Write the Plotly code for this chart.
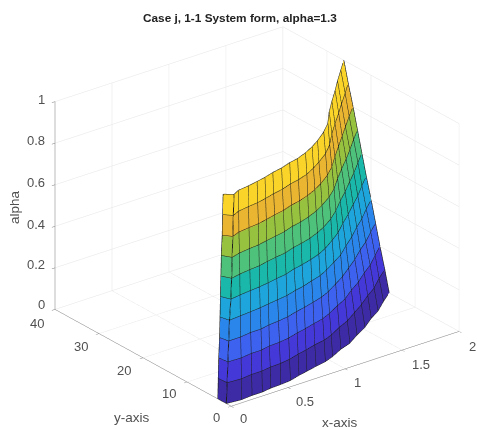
import plotly.graph_objects as go

alpha_levels = [0.0, 0.1, 0.2, 0.3, 0.4, 0.5, 0.6, 0.7, 0.8, 0.9, 1.0]
x_values = [0, .01, .12, .22, .31, .395, .487, .58, .678, .763, .863, .96, 1.05, 1.17, 1.28, 1.40, 1.52, 1.645, 1.755, 1.88, 2.0]
x_second_column = [0.0, 0.005, 0.01, 0.015, 0.02, 0.03, 0.035, 0.04, 0.045, 0.05, 0.055]
y_rows = [
    [3.0, 1.1, 0.8, 1.0, 1.0, 1.3, 1.4, 1.6, 2.2, 2.6, 3.1, 3.5, 4.2, 5.4, 6.2, 7.7, 9.0, 10.8, 12.1, 14.1, 15.9],
    [2.9, 1.05, 0.85, 1.1, 1.1, 1.4, 1.5, 1.8, 2.4, 2.8, 3.4, 3.8, 4.5, 5.8, 6.8, 8.3, 9.8, 11.6, 13.0, 15.1, 16.9],
    [2.8, 1.0, 0.9, 1.2, 1.2, 1.6, 1.7, 2.0, 2.6, 3.0, 3.6, 4.1, 4.9, 6.2, 7.3, 9.0, 10.5, 12.4, 13.9, 16.0, 18.0],
    [2.6, 0.95, 1.0, 1.3, 1.3, 1.7, 1.9, 2.2, 2.8, 3.2, 3.8, 4.4, 5.2, 6.6, 7.9, 9.6, 11.3, 13.3, 14.9, 17.0, 19.0],
    [2.5, 0.9, 1.1, 1.3, 1.5, 1.8, 2.1, 2.4, 3.0, 3.4, 4.1, 4.7, 5.6, 7.0, 8.3, 10.2, 12.0, 14.1, 15.8, 18.0, 20.0],
    [2.4, 0.85, 1.15, 1.4, 1.6, 1.9, 2.3, 2.6, 3.3, 3.7, 4.3, 5.0, 5.9, 7.4, 8.9, 10.9, 12.8, 14.9, 16.7, 19.0, 21.1],
    [2.3, 0.8, 1.2, 1.5, 1.7, 2.1, 2.5, 2.8, 3.5, 3.9, 4.5, 5.3, 6.2, 7.7, 9.4, 11.5, 13.5, 15.7, 17.6, 19.9, 22.1],
    [2.2, 0.8, 1.3, 1.6, 1.8, 2.2, 2.6, 3.0, 3.7, 4.1, 4.8, 5.6, 6.6, 8.1, 9.8, 12.1, 14.3, 16.5, 18.5, 20.9, 23.1],
    [2.0, 0.8, 1.4, 1.7, 1.9, 2.3, 2.8, 3.2, 3.9, 4.3, 5.0, 5.9, 6.9, 8.5, 10.3, 12.7, 15.0, 17.4, 19.5, 21.9, 24.1],
    [1.9, 0.8, 1.45, 1.8, 2.05, 2.45, 3.0, 3.4, 4.1, 4.5, 5.2, 6.2, 7.3, 8.9, 10.8, 13.4, 15.8, 18.2, 20.4, 22.8, 25.2],
    [1.8, 0.8, 1.5, 1.8, 2.2, 2.6, 3.2, 3.6, 4.3, 4.7, 5.5, 6.5, 7.6, 9.3, 11.2, 14.0, 16.5, 19.0, 21.3, 23.8, 26.2],
]
band_colors = ["#3d2ba6", "#4538d8", "#3d62f0", "#2a86ea", "#1ea6dc", "#1ab8aa",
               "#4ec27a", "#97c23f", "#eab530", "#fad428"]
x_ticks = [0, 0.5, 1, 1.5, 2]
y_ticks = [0, 10, 20, 30, 40]
z_ticks = [0, 0.2, 0.4, 0.6, 0.8, 1]
x_tick_spots = [(243, 418), (305, 401), (357, 382), (421, 364), (472, 346)]
y_tick_spots = [(216, 417), (169, 393), (124, 370), (81, 346), (37, 323)]
z_tick_spots = [(41, 304), (36, 264), (36, 224), (36, 182), (36, 140), (41, 99)]

scale = []
for i, c in enumerate(band_colors):
    scale += [[i / 10, c], [(i + 1) / 10, c]]

x_grid = [[x_values[0], x_second_column[k]] + x_values[2:] for k in range(len(alpha_levels))]
z_grid = [[a] * len(x_values) for a in alpha_levels]

fig = go.Figure()
fig.add_trace(go.Surface(
    x=x_grid, y=y_rows, z=z_grid, surfacecolor=z_grid,
    colorscale=scale, cmin=0, cmax=1, showscale=False,
    lighting=dict(ambient=1, diffuse=0, specular=0, roughness=1, fresnel=0),
    contours=dict(z=dict(show=True, start=0, end=1, size=0.1, color="#1e1e1e", width=2)),
))
lx, ly, lz = [], [], []
for j in range(len(x_values)):
    for k in range(len(alpha_levels)):
        lx.append(x_grid[k][j]); ly.append(y_rows[k][j]); lz.append(alpha_levels[k])
    lx.append(None); ly.append(None); lz.append(None)
fig.add_trace(go.Scatter3d(x=lx, y=ly, z=lz, mode="lines",
                           line=dict(color="#1e1e1e", width=2), showlegend=False, hoverinfo="skip"))

def axis(rng, ticks):
    return dict(range=rng, tickvals=ticks, title=dict(text=""), showticklabels=False,
                showgrid=True, gridcolor="#e4e4e4", gridwidth=1, showline=True, linecolor="#7a7a7a",
                linewidth=1, ticks="outside", ticklen=4, tickcolor="#7a7a7a", zeroline=False,
                showbackground=False, showspikes=False, autorange=False)

FONT = "Liberation Sans, Arial"
def label(text, px, py, size=13.5, color="#505050", angle=0):
    return dict(text=text, x=px / 477, y=1 - py / 429, xref="paper", yref="paper", showarrow=False,
                xanchor="center", yanchor="middle", textangle=angle,
                font=dict(family=FONT, size=size, color=color))

tick_labels = []
for vals, spots in ((x_ticks, x_tick_spots), (y_ticks, y_tick_spots), (z_ticks, z_tick_spots)):
    for v, (px, py) in zip(vals, spots):
        tick_labels.append(label(str(v), px, py, size=13))

r = 2.0
center = dict(x=-0.066, y=0.056, z=0.0085)
fig.update_layout(
    width=477, height=429, margin=dict(l=0, r=0, t=0, b=0),
    paper_bgcolor="white", showlegend=False,
    scene=dict(
        domain=dict(x=[0, 1], y=[0, 1]),
        xaxis=axis([0, 2], x_ticks), yaxis=axis([0, 40], y_ticks), zaxis=axis([0, 1], z_ticks),
        aspectmode="manual", aspectratio=dict(x=1.343, y=1.343, z=1.07),
        camera=dict(eye=dict(x=-0.5534 * r + center["x"], y=-0.716 * r + center["y"], z=0.4246 * r + center["z"]),
                    center=center, up=dict(x=0, y=0, z=1),
                    projection=dict(type="orthographic")),
    ),
    annotations=tick_labels + [
        label("<b>Case j, 1-1 System form, alpha=1.3</b>", 240, 18, size=11.8, color="#222222"),
        label("x-axis", 340, 422),
        label("y-axis", 132, 417),
        label("alpha", 14, 207, angle=-90),
    ],
)
fig.write_html("out.html", config=dict(displayModeBar=False), post_script="document.body.style.margin='0';")
